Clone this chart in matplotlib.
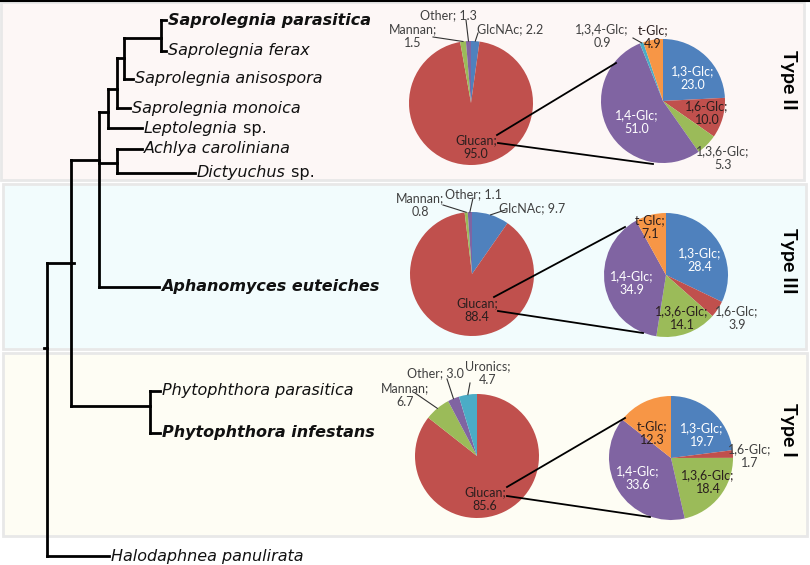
import matplotlib
matplotlib.use("Agg")
import matplotlib.pyplot as plt
from matplotlib.patches import Rectangle
import numpy as np

# ---- data ----
big_names = ["GlcNAc", "Glucan", "Mannan", "Other", "Uronics"]
big_colors = ["#4F81BD", "#C0504D", "#9BBB59", "#8064A2", "#4BACC6"]
type2_big = [2.2, 95.0, 1.5, 1.3, 0.0]
type3_big = [9.7, 88.4, 0.8, 1.1, 0.0]
type1_big = [0.0, 85.6, 6.7, 3.0, 4.7]

small_names = ["1,3-Glc", "1,6-Glc", "1,3,6-Glc", "1,4-Glc", "1,3,4-Glc", "t-Glc"]
small_colors = ["#4F81BD", "#C0504D", "#9BBB59", "#8064A2", "#4BACC6", "#F79646"]
type2_small = [23.0, 10.0, 5.3, 51.0, 0.9, 4.9]
type3_small = [28.4, 3.9, 14.1, 34.9, 0.0, 7.1]
type1_small = [19.7, 1.7, 18.4, 33.6, 0.0, 12.3]

group_names = ["Type II", "Type III", "Type I"]

# tree taxa: italic name, plain suffix, bold flag
taxa = ["Saprolegnia parasitica", "Saprolegnia ferax", "Saprolegnia anisospora",
        "Saprolegnia monoica", "Leptolegnia", "Achlya caroliniana", "Dictyuchus",
        "Aphanomyces euteiches", "Phytophthora parasitica", "Phytophthora infestans",
        "Halodaphnea panulirata"]
taxa_suffix = ["", "", "", "", " sp.", "", " sp.", "", "", "", ""]
taxa_bold = [True, False, False, False, False, False, False, True, False, True, False]

# ---- layout (pixel coords, y down) ----
W, H = 810, 565
fig = plt.figure(figsize=(W / 100, H / 100), dpi=100)
ax = fig.add_axes([0, 0, 1, 1])
ax.set_xlim(0, W)
ax.set_ylim(H, 0)
ax.axis("off")

# background bands
bands = [((1, 2), 803, 178, "#FDF7F6"),
         ((3, 184), 803, 165, "#F2FCFD"),
         ((3, 353), 804, 183, "#FEFDF4")]
for (x0, y0), w, h, c in bands:
    ax.add_patch(Rectangle((x0, y0), w, h, facecolor=c, edgecolor="#E8E8E8",
                           linewidth=2, zorder=0))
ax.plot([0, W], [0.8, 0.8], color="black", linewidth=1.5, zorder=1)

# tree nodes: node -> (x, [(child, y)])
tip_pos = {
    "Saprolegnia parasitica": (166, 20), "Saprolegnia ferax": (166, 51),
    "Saprolegnia anisospora": (133, 79), "Saprolegnia monoica": (130, 108),
    "Leptolegnia": (142, 128), "Achlya caroliniana": (142, 149),
    "Dictyuchus": (195, 173), "Aphanomyces euteiches": (159, 287),
    "Phytophthora parasitica": (160, 391), "Phytophthora infestans": (160, 433),
    "Halodaphnea panulirata": (109, 556),
}
nodes = {
    "root": (47, [("A", 263), ("Halodaphnea panulirata", 556)]),
    "A": (71, [("B", 160), ("Phy", 406)]),
    "B": (99, [("C", 112), ("Ach", 163), ("Aphanomyces euteiches", 287)]),
    "C": (108, [("D", 89), ("Leptolegnia", 128)]),
    "D": (117, [("E", 58), ("Saprolegnia monoica", 108)]),
    "E": (124, [("F", 38), ("Saprolegnia anisospora", 79)]),
    "F": (161, [("Saprolegnia parasitica", 20), ("Saprolegnia ferax", 51)]),
    "Ach": (117, [("Achlya caroliniana", 149), ("Dictyuchus", 173)]),
    "Phy": (150, [("Phytophthora parasitica", 391), ("Phytophthora infestans", 433)]),
}
lw_tree = 2.0
for name, (nx, kids) in nodes.items():
    ys = [y for _, y in kids]
    ax.plot([nx, nx], [min(ys), max(ys)], color="black", lw=lw_tree,
            solid_capstyle="projecting", zorder=2)
    for kid, ky in kids:
        kx = nodes[kid][0] if kid in nodes else tip_pos[kid][0]
        ax.plot([nx, kx], [ky, ky], color="black", lw=lw_tree,
                solid_capstyle="projecting", zorder=2)
ax.plot([44, 47], [348, 348], color="black", lw=lw_tree, zorder=2)
ax.plot([71, 74], [263, 263], color="black", lw=lw_tree, zorder=2)

tfont = ["DejaVu Sans"]
for name, suf, bold in zip(taxa, taxa_suffix, taxa_bold):
    tx, ty = tip_pos[name]
    t = ax.text(tx + 2, ty, name, fontsize=11.5, style="italic",
                weight="bold" if bold else "normal", family=tfont,
                va="center", ha="left", color="#111111", zorder=3)
    if suf:
        ax.annotate(suf, xy=(1, 0), xycoords=t, va="bottom", ha="left",
                    fontsize=11.5, family=tfont, color="#111111", zorder=3)

# ---- pies ----
pfont = ["Lato", "DejaVu Sans"]
dark_in = "#2A1E1E"
dark_out = "#404040"
R = 62

pie_specs = [
    # values, names, colors, center, labels {name: (x, y, color, two_lines)}, leaders {name: (x, y)}
    (type2_big, big_names, big_colors, (471, 103),
     {"GlcNAc": (510, 29, dark_out, False), "Glucan": (476, 147, dark_in, True),
      "Mannan": (413, 36, dark_out, True), "Other": (448, 15, dark_out, False)},
     {"GlcNAc": (478, 33), "Mannan": (433, 37), "Other": (466, 20)}),
    (type2_small, small_names, small_colors, (663, 101),
     {"1,3-Glc": (693, 78, "white", True), "1,6-Glc": (707, 113, dark_in, True),
      "1,3,6-Glc": (723, 158, dark_out, True), "1,4-Glc": (637, 122, "white", True),
      "1,3,4-Glc": (602, 36, dark_out, True), "t-Glc": (653, 37, dark_in, True)},
     {"1,3,4-Glc": (633, 38)}),
    (type3_big, big_names, big_colors, (472, 274),
     {"GlcNAc": (532, 208, dark_out, False), "Glucan": (477, 310, dark_in, True),
      "Mannan": (420, 205, dark_out, True), "Other": (473, 194, dark_out, False)},
     {"GlcNAc": (505, 210), "Mannan": (443, 205), "Other": (473, 198)}),
    (type3_small, small_names, small_colors, (666, 275),
     {"1,3-Glc": (700, 260, "white", True), "1,6-Glc": (737, 318, dark_out, True),
      "1,3,6-Glc": (682, 318, dark_in, True), "1,4-Glc": (632, 283, "white", True),
      "t-Glc": (650, 227, dark_in, True)},
     {}),
    (type1_big, big_names, big_colors, (477, 456),
     {"Glucan": (485, 499, dark_in, True), "Mannan": (405, 395, dark_out, True),
      "Other": (435, 373, dark_out, False), "Uronics": (488, 373, dark_out, True)},
     {"Mannan": (415, 393), "Other": (447, 379), "Uronics": (470, 383)}),
    (type1_small, small_names, small_colors, (671, 458),
     {"1,3-Glc": (702, 435, "white", True), "1,6-Glc": (750, 456, dark_out, True),
      "1,3,6-Glc": (708, 482, dark_in, True), "1,4-Glc": (638, 478, "white", True),
      "t-Glc": (652, 433, dark_in, True)},
     {}),
]

for vals, names, cols, (cx, cy), labels, leaders in pie_specs:
    keep = [i for i, v in enumerate(vals) if v > 0]
    v = [vals[i] for i in keep]
    n = [names[i] for i in keep]
    c = [cols[i] for i in keep]
    # y axis is inverted: start at -90 counterclockwise in data = top, clockwise on screen
    wedges, _ = ax.pie(v, colors=c, center=(cx, cy), radius=R, startangle=-90,
                       counterclock=True, frame=True,
                       wedgeprops=dict(linewidth=0, zorder=2))
    for w, name, val in zip(wedges, n, v):
        if name in labels:
            lx, ly, lc, two = labels[name]
            txt = f"{name};\n{val:.1f}" if two else f"{name}; {val:.1f}"
            ax.text(lx, ly, txt, ha="center", va="center", fontsize=9,
                    family=pfont, color=lc, linespacing=1.2, zorder=4)
        if name in leaders:
            sx, sy = leaders[name]
            th = np.deg2rad((w.theta1 + w.theta2) / 2)
            ex, ey = cx + R * np.cos(th), cy + R * np.sin(th)
            ax.plot([sx, ex], [sy, ey], color="#333333", lw=0.8, zorder=4)

# lines joining glucan slice to its breakdown
join_lines = [
    [((497, 135), (616, 63)), ((498, 143), (653, 164))],
    [((494, 297), (625, 227)), ((498, 311), (643, 333))],
    [((507, 487), (625, 418)), ((507, 496), (650, 517))],
]
for pair in join_lines:
    for (x0, y0), (x1, y1) in pair:
        ax.plot([x0, x1], [y0, y1], color="black", lw=1.3, zorder=4)

# group labels
for g, gy in zip(group_names, [80, 261, 430]):
    ax.text(788, gy, g, rotation=-90, ha="center", va="center", fontsize=14,
            weight="bold", family=pfont, color="black", zorder=4)

ax.set_xlim(0, W)
ax.set_ylim(H, 0)
fig.savefig("out.png", dpi=100)
